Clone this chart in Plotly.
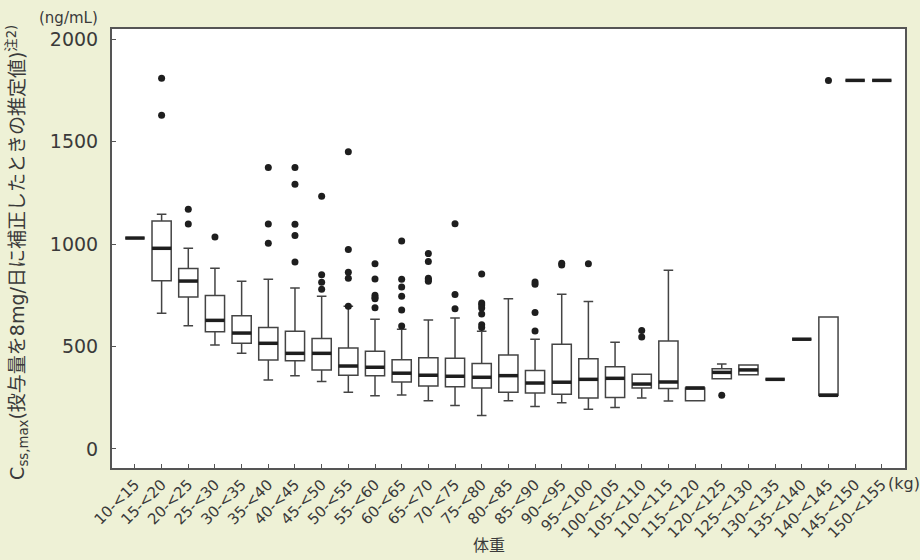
import plotly.graph_objects as go

categories = ["10-<15", "15-<20", "20-<25", "25-<30", "30-<35", "35-<40", "40-<45",
              "45-<50", "50-<55", "55-<60", "60-<65", "65-<70", "70-<75", "75-<80",
              "80-<85", "85-<90", "90-<95", "95-<100", "100-<105", "105-<110",
              "110-<115", "115-<120", "120-<125", "125-<130", "130-<135", "135-<140",
              "140-<145", "145-<150", "150-<155"]

lower = [1030, 663, 602, 508, 467, 337, 358, 329, 277, 260, 264, 236, 212, 163,
         236, 207, 226, 194, 202, 249, 234, 236, 343, 363, 340, 536, 262, 1800, 1800]
q1 = [1030, 822, 742, 573, 516, 435, 431, 386, 360, 357, 327, 308, 304, 298,
      277, 273, 267, 249, 251, 298, 295, 236, 343, 363, 340, 536, 262, 1800, 1800]
median = [1030, 980, 820, 628, 566, 516, 467, 467, 405, 399, 370, 360, 355, 350,
          358, 322, 326, 340, 345, 317, 327, 298, 374, 386, 340, 536, 262, 1800, 1800]
q3 = [1030, 1113, 881, 749, 651, 593, 575, 539, 493, 477, 436, 446, 443, 417,
      459, 383, 511, 441, 402, 365, 527, 298, 392, 410, 340, 536, 645, 1800, 1800]
upper = [1030, 1146, 980, 882, 819, 829, 786, 746, 697, 633, 585, 630, 640, 575,
         734, 536, 755, 720, 521, 365, 873, 298, 415, 410, 340, 536, 645, 1800, 1800]

outlier_cat = (["15-<20"] * 2 + ["20-<25"] * 2 + ["25-<30"] + ["35-<40"] * 3 +
               ["40-<45"] * 5 + ["45-<50"] * 4 + ["50-<55"] * 5 + ["55-<60"] * 6 +
               ["60-<65"] * 6 + ["65-<70"] * 5 + ["70-<75"] * 3 + ["75-<80"] * 7 +
               ["85-<90"] * 4 + ["90-<95"] * 2 + ["95-<100"] + ["105-<110"] * 2 +
               ["120-<125"] + ["140-<145"])
outlier_val = ([1810, 1630] + [1171, 1099] + [1035] + [1374, 1099, 1005] +
               [1374, 1293, 1097, 1042, 913] + [1234, 851, 814, 780] +
               [1451, 974, 863, 834, 697] + [904, 830, 751, 740, 733, 690] +
               [1016, 829, 791, 746, 679, 601] + [954, 915, 834, 826, 819] +
               [1100, 754, 685] + [855, 713, 703, 689, 659, 607, 593] +
               [816, 805, 666, 576] + [907, 899] + [905] + [578, 547] +
               [262] + [1800])

ytick_vals = [0, 500, 1000, 1500, 2000]

FONT = "DejaVu Sans, Noto Sans CJK JP, sans-serif"
TXT = "#3a3a3a"
BG = "#EEF1D6"

fig = go.Figure()

fig.add_trace(go.Box(
    x=categories, q1=q1, median=median, q3=q3,
    lowerfence=lower, upperfence=upper,
    fillcolor="white", line=dict(color="#444444", width=1.5),
    width=0.72, boxpoints=False, showlegend=False, hoverinfo="skip",
))

fig.add_trace(go.Scatter(
    x=categories, y=median, mode="markers",
    marker=dict(symbol="line-ew", size=13.8,
                line=dict(color="#1e1e1e", width=3.5)),
    showlegend=False, hoverinfo="skip",
))

fig.add_trace(go.Scatter(
    x=outlier_cat, y=outlier_val, mode="markers",
    marker=dict(symbol="circle", size=7, color="#1e1e1e"),
    showlegend=False, hoverinfo="skip",
))

fig.update_layout(
    width=920, height=560,
    margin=dict(l=112, r=15, t=29, b=92),
    paper_bgcolor=BG,
    plot_bgcolor="white",
    font=dict(family=FONT, color=TXT),
    xaxis=dict(
        type="category", categoryorder="array", categoryarray=categories,
        range=[-0.86, 28.87], automargin=False,
        showline=True, linecolor="#555555", linewidth=2, mirror=True,
        ticks="inside", ticklen=4, tickcolor="#555555", tickwidth=1,
        tickangle=-45, tickfont=dict(size=15, color=TXT, family=FONT),
        showgrid=False, zeroline=False,
    ),
    yaxis=dict(
        range=[-93, 2051], automargin=False,
        tickvals=ytick_vals, ticktext=[str(v) for v in ytick_vals],
        showline=True, linecolor="#555555", linewidth=2, mirror=True,
        ticks="inside", ticklen=4, tickcolor="#555555", tickwidth=1,
        ticklabelstandoff=8,
        tickfont=dict(size=19, color=TXT, family=FONT),
        showgrid=False, zeroline=False,
    ),
    annotations=[
        dict(text="C<sub>ss,max</sub>(投与量を8mg/日に補正したときの推定値)<sup>注2)</sup>",
             xref="paper", yref="paper", x=0, xshift=-94, y=0.49,
             textangle=-90, showarrow=False,
             font=dict(size=19, color=TXT, family=FONT),
             xanchor="center", yanchor="middle"),
        dict(text="(ng/mL)", xref="paper", yref="paper", x=0, xshift=-44, y=1.0,
             yshift=0, showarrow=False, font=dict(size=15, color=TXT, family=FONT),
             xanchor="center", yanchor="bottom"),
        dict(text="(kg)", xref="paper", yref="paper", x=1.0, xshift=-1, y=0,
             yshift=-4, showarrow=False, font=dict(size=16, color=TXT, family=FONT),
             xanchor="center", yanchor="top"),
        dict(text="体重", xref="paper", yref="paper", x=0.475, y=0,
             yshift=-66, showarrow=False, font=dict(size=16, color=TXT, family=FONT),
             xanchor="center", yanchor="top"),
    ],
)

fig.write_html(
    "out.html",
    config={"displayModeBar": False},
    post_script="document.body.style.margin='0';document.body.style.background='" + BG + "';",
)
